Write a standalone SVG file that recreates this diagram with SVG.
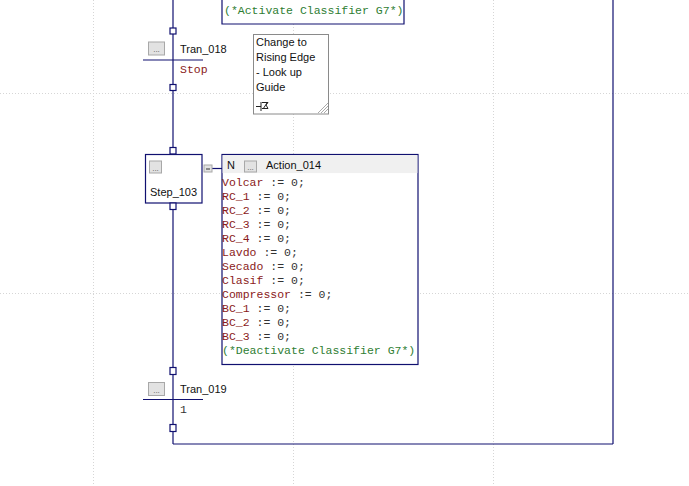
<svg xmlns="http://www.w3.org/2000/svg" width="689" height="486" viewBox="0 0 689 486">
<style>
.grid{stroke:#d6d6d6;stroke-width:1;stroke-dasharray:1 2;fill:none}
.wire{stroke:#101070;stroke-width:1.2;fill:none}
.sq{fill:#fff;stroke:#101070;stroke-width:1.2}
.box{fill:#fff;stroke:#101070;stroke-width:1.2}
.btn{fill:#e2e2e2;stroke:#a8a8a8;stroke-width:1}
.btxt{font-family:"Liberation Sans",Arial,sans-serif;font-size:8px;fill:#555}
.lbl{font-family:"Liberation Sans",Arial,sans-serif;font-size:11px;fill:#111}
.mono{font-family:"Liberation Mono","Courier New",monospace;font-size:11.5px}
.var{fill:#8a1a1a}
.op{fill:#333}
.cmt{fill:#2e7d32}
</style>
<rect width="689" height="486" fill="#fff"/>
<g id="grid">
<line class="grid" x1="0" y1="93.5" x2="689" y2="93.5"/>
<line class="grid" x1="0" y1="293.5" x2="689" y2="293.5"/>
<line class="grid" x1="93.5" y1="0" x2="93.5" y2="486"/>
<line class="grid" x1="293.5" y1="0" x2="293.5" y2="486"/>
<line class="grid" x1="493.5" y1="0" x2="493.5" y2="486"/>
</g>
<g id="connectors">
<line class="wire" x1="173" y1="0" x2="173" y2="154"/>
<line class="wire" x1="173" y1="203" x2="173" y2="444"/>
<line class="wire" x1="173" y1="444" x2="613" y2="444"/>
<line class="wire" x1="613" y1="0" x2="613" y2="444"/>
<line class="wire" x1="212" y1="168.5" x2="222" y2="168.5"/>
</g>
<g id="action_top">
<polyline class="box" points="222,0 222,24 404,24 404,0"/>
<text class="mono cmt" x="224" y="14">(*Activate Classifier G7*)</text>
</g>
<g id="tran_018">
<rect class="sq" x="170" y="28" width="6" height="6"/>
<rect class="sq" x="170" y="84.5" width="6" height="6"/>
<line class="wire" x1="143" y1="60" x2="203" y2="60"/>
<rect class="btn" x="148.5" y="42" width="16" height="13"/>
<text class="btxt" x="156.5" y="52" text-anchor="middle">...</text>
<text class="lbl" x="180" y="53">Tran_018</text>
<text class="mono var" x="180" y="73">Stop</text>
</g>
<g id="comment">
<rect x="253.5" y="34.5" width="75" height="79.5" fill="#fff" stroke="#8a8a8a" stroke-width="1"/>
<text class="lbl" x="256" y="45.5">Change to</text>
<text class="lbl" x="256" y="60.5">Rising Edge</text>
<text class="lbl" x="256" y="75.5">- Look up</text>
<text class="lbl" x="256" y="90.5">Guide</text>
<path d="M256 106.5 H261 M261 102 V111 M262 102.5 H268 L266 105 L268 108.5 H262 M263 109 L267 103" stroke="#222" stroke-width="1" fill="none"/>
<path d="M318 113 L328 103 M321 113 L328 106 M324 113 L328 109" stroke="#aaa" stroke-width="1"/>
</g>
<g id="step_103">
<rect class="sq" x="170" y="147.5" width="6" height="6.5"/>
<rect class="box" x="145.5" y="154.5" width="56.5" height="48.5"/>
<rect class="sq" x="170" y="203" width="6" height="6.5"/>
<rect class="btn" x="149.5" y="161" width="12" height="12"/>
<text class="btxt" x="155.5" y="170.5" text-anchor="middle">...</text>
<text class="lbl" x="150" y="195.5">Step_103</text>
<rect class="btn" x="204" y="165" width="8" height="7"/>
<line x1="206" y1="169" x2="210" y2="169" stroke="#333" stroke-width="1"/>
</g>
<g id="action_014">
<rect class="box" x="222" y="154.5" width="196" height="210"/>
<rect x="222.6" y="155.1" width="194.8" height="18" fill="#f0f0f0"/>
<text class="lbl" x="227" y="169">N</text>
<rect class="btn" x="244.5" y="161" width="12" height="11"/>
<text class="btxt" x="250.5" y="169.5" text-anchor="middle">...</text>
<text class="lbl" x="266" y="169">Action_014</text>
<g class="mono">
<text x="222" y="186"><tspan class="var">Volcar</tspan><tspan class="op"> := 0;</tspan></text>
<text x="222" y="200"><tspan class="var">RC_1</tspan><tspan class="op"> := 0;</tspan></text>
<text x="222" y="214"><tspan class="var">RC_2</tspan><tspan class="op"> := 0;</tspan></text>
<text x="222" y="228"><tspan class="var">RC_3</tspan><tspan class="op"> := 0;</tspan></text>
<text x="222" y="242"><tspan class="var">RC_4</tspan><tspan class="op"> := 0;</tspan></text>
<text x="222" y="256"><tspan class="var">Lavdo</tspan><tspan class="op"> := 0;</tspan></text>
<text x="222" y="270"><tspan class="var">Secado</tspan><tspan class="op"> := 0;</tspan></text>
<text x="222" y="284"><tspan class="var">Clasif</tspan><tspan class="op"> := 0;</tspan></text>
<text x="222" y="298"><tspan class="var">Compressor</tspan><tspan class="op"> := 0;</tspan></text>
<text x="222" y="312"><tspan class="var">BC_1</tspan><tspan class="op"> := 0;</tspan></text>
<text x="222" y="326"><tspan class="var">BC_2</tspan><tspan class="op"> := 0;</tspan></text>
<text x="222" y="340"><tspan class="var">BC_3</tspan><tspan class="op"> := 0;</tspan></text>
<text x="222" y="354" class="cmt">(*Deactivate Classifier G7*)</text>
</g>
</g>
<g id="tran_019">
<rect class="sq" x="170" y="367.5" width="6" height="7"/>
<line class="wire" x1="143" y1="399.5" x2="203" y2="399.5"/>
<rect class="btn" x="148.5" y="382.5" width="16" height="13"/>
<text class="btxt" x="156.5" y="392.5" text-anchor="middle">...</text>
<text class="lbl" x="180" y="393">Tran_019</text>
<text class="mono op" x="180" y="413">1</text>
<rect class="sq" x="170" y="424.5" width="6" height="7"/>
</g>
</svg>
